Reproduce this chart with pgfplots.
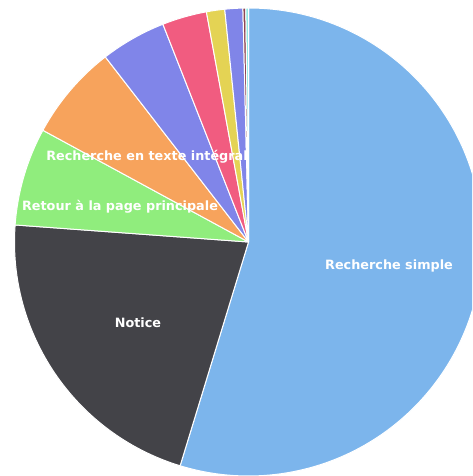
\documentclass[border=0pt]{standalone}
\usepackage{pgfplots}
\usepackage{pgfplotstable}
\pgfplotsset{compat=1.18}
\usepackage{fontspec}
\setmainfont{DejaVu Sans}
\definecolor{hcblue}{HTML}{7CB5EC}
\definecolor{hcdark}{HTML}{434348}
\definecolor{hcgreen}{HTML}{90ED7D}
\definecolor{hcorange}{HTML}{F7A35C}
\definecolor{hcpurple}{HTML}{8085E9}
\definecolor{hcpink}{HTML}{F15C80}
\definecolor{hcyellow}{HTML}{E4D354}
\definecolor{hcpurpleb}{HTML}{8085E8}
\definecolor{hcmaroon}{HTML}{8D4653}
\definecolor{hccyan}{HTML}{91E8E1}
\pgfplotstableread{
value color
54.72 hcblue
21.44 hcdark
6.76 hcgreen
6.60 hcorange
4.52 hcpurple
3.08 hcpink
1.26 hcyellow
1.24 hcpurpleb
0.20 hcmaroon
0.18 hccyan
}\piedata
\begin{document}
\begin{tikzpicture}
\useasboundingbox (0,0) rectangle (472pt,476pt);
\clip (0,0) rectangle (472pt,476pt);
\begin{axis}[x=1pt, y=1pt, xmin=0, xmax=472, ymin=0, ymax=476,
  hide axis, clip=true, anchor=south west, at={(0,0)}]
\def\startang{90}
\pgfplotsforeachungrouped \i in {0,...,9}{%
  \pgfplotstablegetelem{\i}{value}\of\piedata \let\val\pgfplotsretval
  \pgfplotstablegetelem{\i}{color}\of\piedata \let\col\pgfplotsretval
  \pgfmathsetmacro\endang{\startang-3.6*\val}%
  \edef\temp{\noexpand\fill[\col, draw=white, line width=1pt, line join=round] (axis cs:248.5,234) -- ++(\startang:234pt) arc[start angle=\startang, end angle=\endang, radius=234pt] -- cycle;}%
  \temp
  \global\let\startang\endang
}
\begin{scope}[every node/.style={text=white, font=\bfseries\fontsize{12.8}{15}\selectfont}]
\node at (axis cs:389,210) {Recherche simple};
\node at (axis cs:138,153.5) {Notice};
\node at (axis cs:120,269) {Retour à la page principale};
\node at (axis cs:147,319.5) {Recherche en texte intégral};
\end{scope}
\end{axis}
\end{tikzpicture}
\end{document}
